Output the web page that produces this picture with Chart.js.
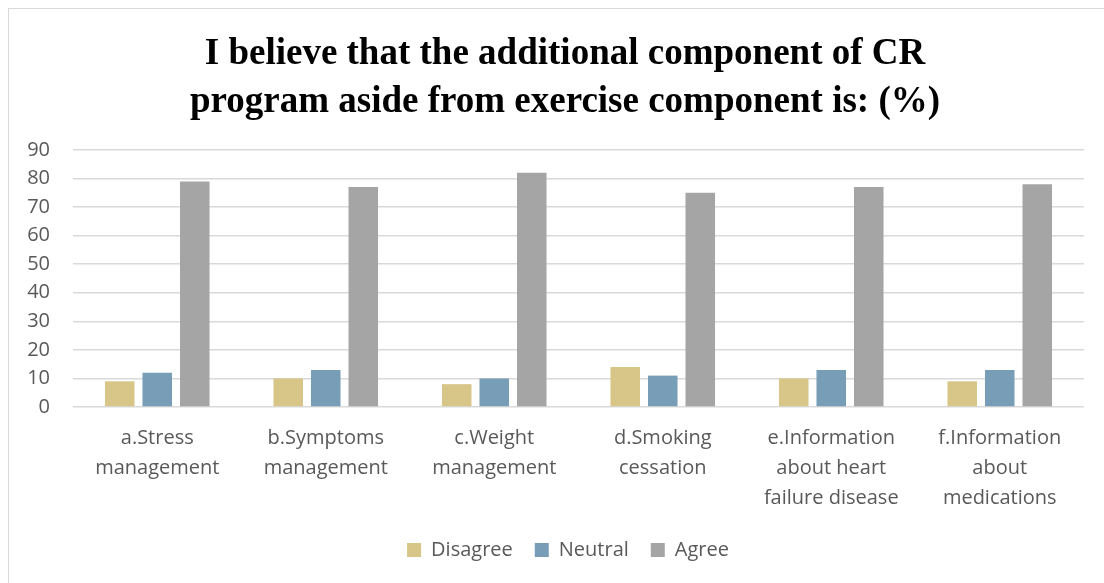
<!DOCTYPE html>
<html>
<head>
<meta charset="utf-8">
<script src="https://cdn.jsdelivr.net/npm/chart.js@4"></script>
<style>
  html, body { margin: 0; padding: 0; background: #fff; overflow: hidden; }
  #frame { position: absolute; left: 8px; top: 8px; width: 1110px; height: 590px; border: 1px solid #d9d9d9; box-sizing: border-box; }
  #chart { position: absolute; left: 0; top: 0; }
  #title { position: absolute; left: 0; top: 28px; width: 1130px; text-align: center;
    font: bold 37px/48px 'Liberation Serif', serif; color: #000; }
</style>
</head>
<body>
<div id="frame"></div>
<canvas id="chart" width="1104" height="583"></canvas>
<div id="title">I believe that the additional component of CR<br>program aside from exercise component is: (%)</div>
<script>
// données (%)
const categories = [
  ["a.Stress", "management"],
  ["b.Symptoms", "management"],
  ["c.Weight", "management"],
  ["d.Smoking", "cessation"],
  ["e.Information", "about heart", "failure disease"],
  ["f.Information", "about", "medications"]
];
const disagree = [9, 10, 8, 14, 10, 9];
const neutral = [12, 13, 10, 11, 13, 13];
const agree = [79, 77, 82, 75, 77, 78];
const yTicks = [0, 10, 20, 30, 40, 50, 60, 70, 80, 90];

const gray = "#595959";
const font = "'Open Sans', 'DejaVu Sans', sans-serif";

// décale la légende (centrée comme dans l'original, un peu à droite)
const legendShift = {
  id: "legendShift",
  afterLayout(chart) {
    const lg = chart.legend;
    lg.left += 22;
    lg.right += 22;
    lg.top -= 11;
    lg.bottom -= 11;
  },
};

document.addEventListener("DOMContentLoaded", function () {
  const ctx = document.getElementById("chart").getContext("2d");
  const ds = (label, data, color) => ({
    label: label,
    data: data,
    backgroundColor: color,
    borderWidth: 0,
    categoryPercentage: 0.668,
    barPercentage: 0.787,
  });

  new Chart(ctx, {
    type: "bar",
    data: {
      labels: categories,
      datasets: [
        ds("Disagree", disagree, "#d7c687"),
        ds("Neutral", neutral, "#789db7"),
        ds("Agree", agree, "#a5a5a5"),
      ],
    },
    plugins: [legendShift],
    options: {
      responsive: false,
      animation: false,
      layout: { padding: { left: 8, right: 20, top: 150, bottom: 2 } },
      plugins: {
        title: { display: false },
        legend: {
          position: "bottom",
          labels: {
            color: gray,
            font: { family: font, size: 20 },
            boxWidth: 14,
            boxHeight: 14,
            padding: 22,
          },
        },
        tooltip: { enabled: false },
      },
      scales: {
        x: {
          grid: { display: false, drawTicks: false },
          border: { display: false },
          ticks: {
            color: gray,
            font: { family: font, size: 20, lineHeight: 1.5 },
            padding: 16,
            maxRotation: 0,
            autoSkip: false,
          },
        },
        y: {
          min: 0,
          max: 90,
          afterBuildTicks: (axis) => {
            axis.ticks = yTicks.map((v) => ({ value: v }));
          },
          afterFit: (axis) => {
            axis.width = 65;
          },
          grid: { color: "#d9d9d9", lineWidth: 1.6, drawTicks: false },
          border: { display: false },
          ticks: {
            color: gray,
            font: { family: font, size: 20 },
            padding: 23,
          },
        },
      },
    },
  });
});
</script>
</body>
</html>
